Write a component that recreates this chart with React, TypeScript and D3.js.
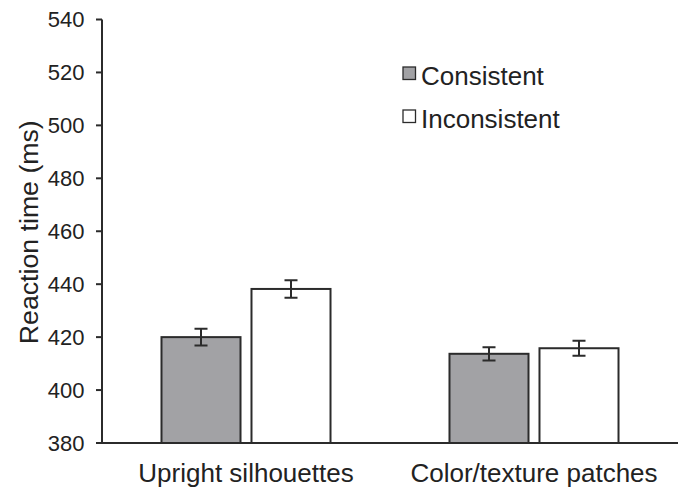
// Reaction time bar chart: consistent vs inconsistent, two stimulus types
import React, { useMemo } from 'react';
import * as d3 from 'd3';

// data
const categories = ['Upright silhouettes', 'Color/texture patches'];
const seriesNames = ['Consistent', 'Inconsistent'];
const consistentMeans = [420, 413.7];
const inconsistentMeans = [438.2, 415.8];
const consistentErrors = [3.2, 2.5];
const inconsistentErrors = [3.3, 2.8];
const yTicks = [380, 400, 420, 440, 460, 480, 500, 520, 540];

const seriesColors = ['#a2a2a5', '#ffffff'];
const ink = '#2b2b2b';
const font = '"Liberation Sans", Arial, Helvetica, sans-serif';

const width = 682;
const height = 489;
const margin = { top: 19.5, right: 4, bottom: 46, left: 102 };

const App = () => {
  const x = useMemo(
    () => d3.scaleBand<string>().domain(categories).range([margin.left, width - margin.right]).padding(0),
    []
  );
  const xInner = useMemo(
    () =>
      d3
        .scaleBand<string>()
        .domain(seriesNames)
        .range([0, x.bandwidth()])
        .paddingInner(0.122)
        .paddingOuter(0.661),
    [x]
  );
  const y = useMemo(
    () => d3.scaleLinear().domain([380, 540]).range([height - margin.bottom, margin.top]),
    []
  );

  // one row per bar
  const bars = categories.flatMap((cat, i) => [
    { cat, series: seriesNames[0], value: consistentMeans[i], err: consistentErrors[i], fill: seriesColors[0] },
    { cat, series: seriesNames[1], value: inconsistentMeans[i], err: inconsistentErrors[i], fill: seriesColors[1] },
  ]);

  const y0 = y(380);
  const capHalf = 6.5;

  return (
    <svg
      width={width}
      height={height}
      style={{ position: 'absolute', left: 0, top: 0, background: '#fff' }}
      fontFamily={font}
    >
      {/* bars */}
      {bars.map((b) => {
        const bx = (x(b.cat) ?? 0) + (xInner(b.series) ?? 0);
        const cx = bx + xInner.bandwidth() / 2;
        return (
          <g key={b.cat + b.series}>
            <rect
              x={bx}
              y={y(b.value)}
              width={xInner.bandwidth()}
              height={y0 - y(b.value)}
              fill={b.fill}
              stroke={ink}
              strokeWidth={2}
            />
            {/* error bar */}
            <path
              d={[
                'M', cx - capHalf, y(b.value + b.err), 'H', cx + capHalf,
                'M', cx, y(b.value + b.err), 'V', y(b.value - b.err),
                'M', cx - capHalf, y(b.value - b.err), 'H', cx + capHalf,
              ].join(' ')}
              fill="none"
              stroke={ink}
              strokeWidth={2}
            />
          </g>
        );
      })}

      {/* y axis */}
      <path
        d={['M', margin.left, y(540), 'V', y0].join(' ')}
        fill="none"
        stroke={ink}
        strokeWidth={2}
      />
      {yTicks.map((t) => (
        <g key={t} transform={`translate(0, ${y(t)})`}>
          <line x1={margin.left - 6} x2={margin.left} stroke={ink} strokeWidth={2} />
          <text x={84.5} dy="0.36em" textAnchor="end" fontSize={22} fill="#222">
            {t}
          </text>
        </g>
      ))}

      {/* baseline */}
      <line x1={margin.left - 6} x2={width - margin.right} y1={y0} y2={y0} stroke={ink} strokeWidth={2} />

      {/* category labels */}
      {categories.map((c) => (
        <text
          key={c}
          x={(x(c) ?? 0) + x.bandwidth() / 2}
          y={482}
          textAnchor="middle"
          fontSize={26}
          fill="#222"
        >
          {c}
        </text>
      ))}

      {/* y title */}
      <text
        transform={`translate(38, ${(y(540) + y0) / 2 + 1}) rotate(-90)`}
        textAnchor="middle"
        fontSize={25}
        fill="#222"
        textLength={224}
        lengthAdjust="spacingAndGlyphs"
      >
        Reaction time (ms)
      </text>

      {/* legend */}
      {seriesNames.map((s, i) => (
        <g key={s} transform={`translate(403, ${67 + i * 43})`}>
          <rect x={0} y={0} width={12.5} height={12.5} fill={seriesColors[i]} stroke={ink} strokeWidth={1.3} />
          <text x={18} y={18} fontSize={26} fill="#222">
            {s}
          </text>
        </g>
      ))}
    </svg>
  );
};

export default App;
